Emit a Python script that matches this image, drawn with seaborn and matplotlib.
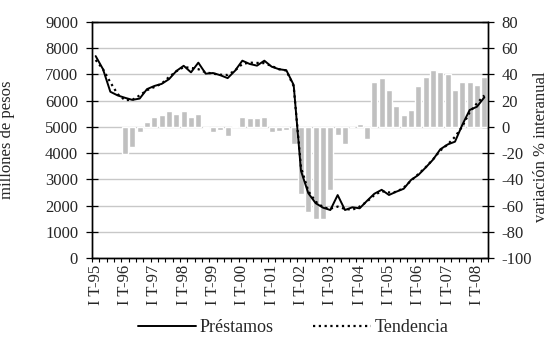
import numpy as np
import pandas as pd
import matplotlib
matplotlib.use("Agg")
import matplotlib.pyplot as plt
import matplotlib.ticker as mticker
from matplotlib.lines import Line2D
import seaborn as sns

# Quarterly series, I T-95 .. II T-08 (54 quarters)
prestamos = [7700, 7200, 6340, 6200, 6110, 6030, 6080, 6440, 6560, 6640,
             6820, 7130, 7330, 7080, 7450, 7030, 7055, 6970, 6860, 7140,
             7525, 7400, 7335, 7525, 7296, 7200, 7160, 6600, 3320, 2470,
             2090, 1920, 1830, 2400, 1830, 1934, 1895, 2180, 2450, 2600,
             2403, 2529, 2640, 2975, 3166, 3450, 3750, 4146, 4330, 4436,
             5080, 5644, 5771, 6128]

tendencia = [7550, 7200, 6700, 6250, 6020, 6030, 6200, 6400, 6520, 6650,
             6900, 7120, 7280, 7250, 7200, 7080, 7030, 6990, 6980, 7150,
             7400, 7450, 7440, 7430, 7320, 7200, 7150, 6550, 3450, 2550,
             2150, 1940, 1880, 1960, 1870, 1840, 1960, 2150, 2400, 2550,
             2500, 2520, 2680, 2950, 3200, 3460, 3760, 4100, 4330, 4620,
             5020, 5560, 5900, 6200]

# Interannual % change, available from I T-96 onwards
variacion = [-20.5, -15.5, -4, 4, 7.5, 9.3, 11.8, 9.5, 11.8, 7.5,
             9.5, -1, -4, -2, -7, 1, 7.5, 6.5, 6.5, 7.5,
             -4, -3, -2, -13, -51, -65, -70, -70, -48, -6.5,
             -13, 0, 2, -9, 34.6, 37.5, 28.5, 15.6, 8.7, 12.5,
             31.5, 38.4, 43.7, 42.2, 40, 28.5, 34, 34, 32.3, 38.4]

tick_labels = ["I T-95", "I T-96", "I T-97", "I T-98", "I T-99", "I T-00",
               "I T-01", "I T-02", "I T-03", "I T-04", "I T-05", "I T-06",
               "I T-07", "I T-08"]

n = len(prestamos)
idx = np.arange(n)
idx_var = idx[n - len(variacion):]

sns.set_style("white")
plt.rcParams["font.family"] = ["Liberation Serif", "DejaVu Serif"]
FS = 12

W, H = 549, 340
fig = plt.figure(figsize=(W / 100, H / 100), dpi=100)
L, R, T, B = 92, 488, 22, 258
ax = fig.add_axes([L / W, 1 - B / H, (R - L) / W, (B - T) / H])
ax2 = ax.twinx()

# bars (right axis) sit underneath, lines (left axis) on top
ax.set_zorder(2)
ax.patch.set_visible(False)

bar_df = pd.DataFrame({"q": idx_var, "v": variacion})
sns.barplot(data=bar_df, x="q", y="v", native_scale=True, color="#C0C0C0",
            saturation=1, width=0.82, errorbar=None, ax=ax2, zorder=2)

line_df = pd.DataFrame({"q": idx, "p": prestamos, "t": tendencia})
sns.lineplot(data=line_df, x="q", y="p", ax=ax, color="black",
             linewidth=1.4, zorder=4)
sns.lineplot(data=line_df, x="q", y="t", ax=ax, color="black",
             linewidth=1.6, linestyle=(0, (1, 1.6)), zorder=5)

# axes limits and ticks
ax.set_xlim(-0.5, n - 0.5)
ax.set_ylim(0, 9000)
ax2.set_ylim(-100, 80)
ax.set_yticks(np.arange(0, 9001, 1000))
ax2.set_yticks(np.arange(-100, 81, 20))
ax2.yaxis.set_major_formatter(mticker.FuncFormatter(lambda v, p: f"{int(v)}"))

ax.set_xticks(np.arange(0, n, 4))
ax.set_xticklabels(tick_labels, rotation=90)
ax.set_xticks(np.arange(-0.5, n, 1), minor=True)
ax.tick_params(axis="x", which="major", length=0, pad=5, labelsize=FS)
ax.tick_params(axis="x", which="minor", length=3, width=0.8,
               direction="out", color="black", bottom=True)
ax.tick_params(axis="y", which="major", direction="inout", length=8,
               width=0.9, color="black", pad=6, labelsize=FS, left=True)
ax2.tick_params(axis="y", which="major", direction="inout", length=9,
                width=0.9, color="black", pad=5, labelsize=FS, right=True)

ax2.yaxis.grid(True, color="#C8C8C8", linewidth=1.0)
ax2.set_axisbelow(True)
ax.grid(False)

for a in (ax, ax2):
    for s in a.spines.values():
        s.set_visible(True)
        s.set_color("black")
        s.set_linewidth(1.0)

ax.set_xlabel("")
ax.set_ylabel("millones de pesos", fontsize=FS)
ax2.set_ylabel("variación % interanual", fontsize=FS, rotation=90)
ax.yaxis.set_label_coords((15 - L) / (R - L), 0.5)
ax2.yaxis.set_label_coords((533 - L) / (R - L), 0.47)

handles = [Line2D([], [], color="black", linewidth=1.4),
           Line2D([], [], color="black", linewidth=1.6,
                  linestyle=(0, (1, 1.6)))]
fig.legend(handles, ["Préstamos", "Tendencia"], loc="center",
           bbox_to_anchor=(293 / W, 1 - 328 / H), ncol=2, frameon=False,
           fontsize=13, handlelength=3.2, handletextpad=0.2,
           columnspacing=2.2, borderaxespad=0, borderpad=0)

fig.savefig("out.png", dpi=100)
